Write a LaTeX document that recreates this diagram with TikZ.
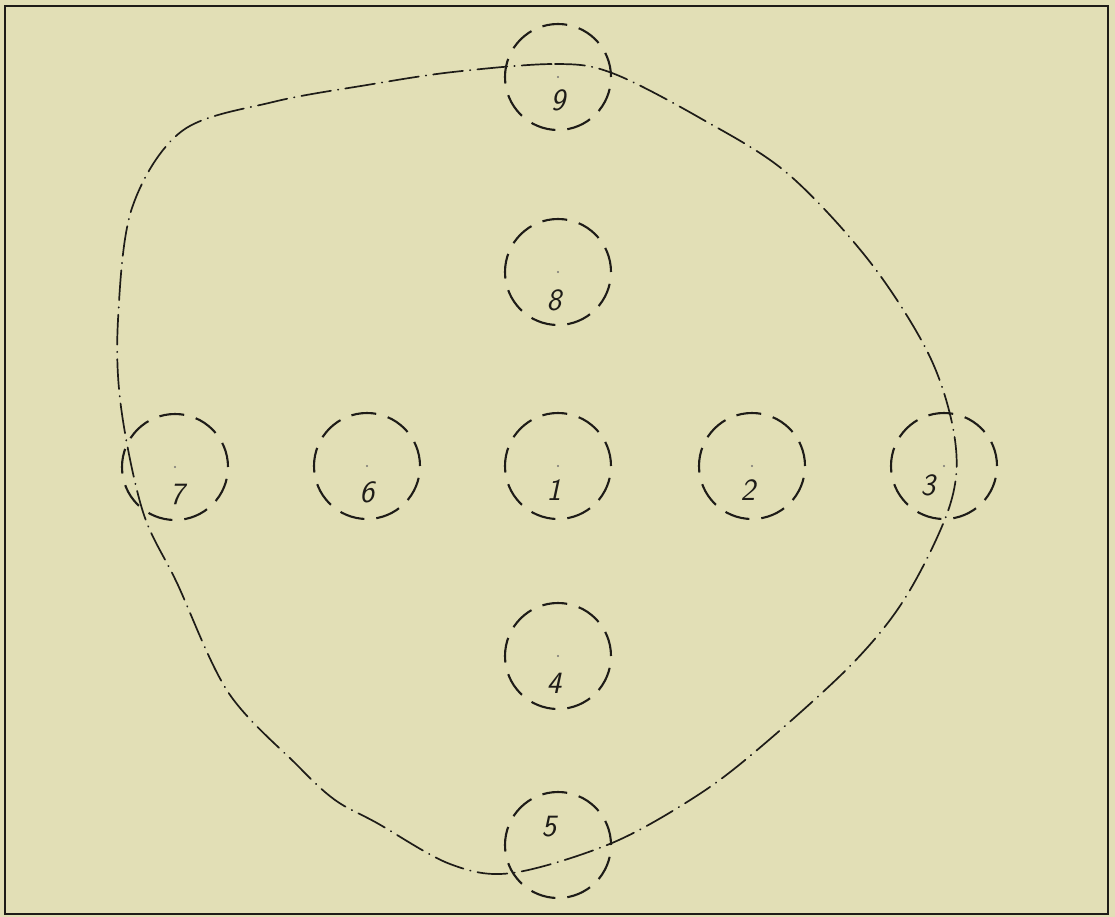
\documentclass[tikz,border=0pt]{standalone}
\usetikzlibrary{calc}
\definecolor{paper}{RGB}{226,223,182}
\definecolor{ink}{RGB}{30,28,24}
\tikzset{
  hole/.style={circle, draw=ink, line width=2.1pt, minimum size=106pt, inner sep=0pt,
    dash pattern=on 25pt off 12pt},
  num/.style={text=ink, font=\fontsize{31}{31}\selectfont\sffamily\itshape, inner sep=0pt},
  cdot/.style={circle, fill=ink!60, minimum size=2.2pt, inner sep=0pt},
  outline/.style={draw=ink, line width=1.7pt, line cap=round,
    dash pattern=on 30pt off 7pt on 0.5pt off 7pt},
  frame/.style={draw=ink, line width=2pt}
}
\begin{document}
\begin{tikzpicture}[x=1pt,y=-1pt]
\fill[paper] (0,0) rectangle (1115,917);
\useasboundingbox (0,0) rectangle (1115,917);
\draw[frame] (5,6) rectangle (1108,914);
% holes
\node[hole] (h9) at (558,77) {};
\node[hole] (h8) at (558,272) {};
\node[hole] (h1) at (558,466) {};
\node[hole] (h6) at (367,466) {};
\node[hole] (h7) at (175,467) {};
\node[hole] (h2) at (752,466) {};
\node[hole] (h3) at (944,466) {};
\node[hole] (h4) at (558,656) {};
\node[hole] (h5) at (558,845) {};
% centre dots
\foreach \n in {9,8,1,6,7,2,3,4} \node[cdot] (d\n) at (h\n.center) {};
% labels
\node[num] (l9) at ($(h9.center)+(0,23)$) {9};
\node[num] (l8) at ($(h8.center)+(-4,28)$) {8};
\node[num] (l1) at ($(h1.center)+(-4,24)$) {1};
\node[num] (l6) at ($(h6.center)+(0,26)$) {6};
\node[num] (l7) at ($(h7.center)+(2,27)$) {7};
\node[num] (l2) at ($(h2.center)+(-4,24)$) {2};
\node[num] (l3) at ($(h3.center)+(-16,19)$) {3};
\node[num] (l4) at ($(h4.center)+(-4,27)$) {4};
\node[num] (l5) at ($(h5.center)+(-9,-18)$) {5};
% dash-dot outline
\draw[outline] plot[smooth cycle, tension=0.55] coordinates {
  (453,72) (555,64) (612,73) (700,118) (787,173) (870,262) (930,357)
  (955,440) (950,505) (907,595) (853,663) (763,745) (698,795) (612,843)
  (512,873) (450,864) (377,823) (335,800) (297,765) (228,692) (177,583)
  (143,512) (121,407) (118,320) (132,208) (182,131) (273,102) (367,85)
};
\end{tikzpicture}
\end{document}
